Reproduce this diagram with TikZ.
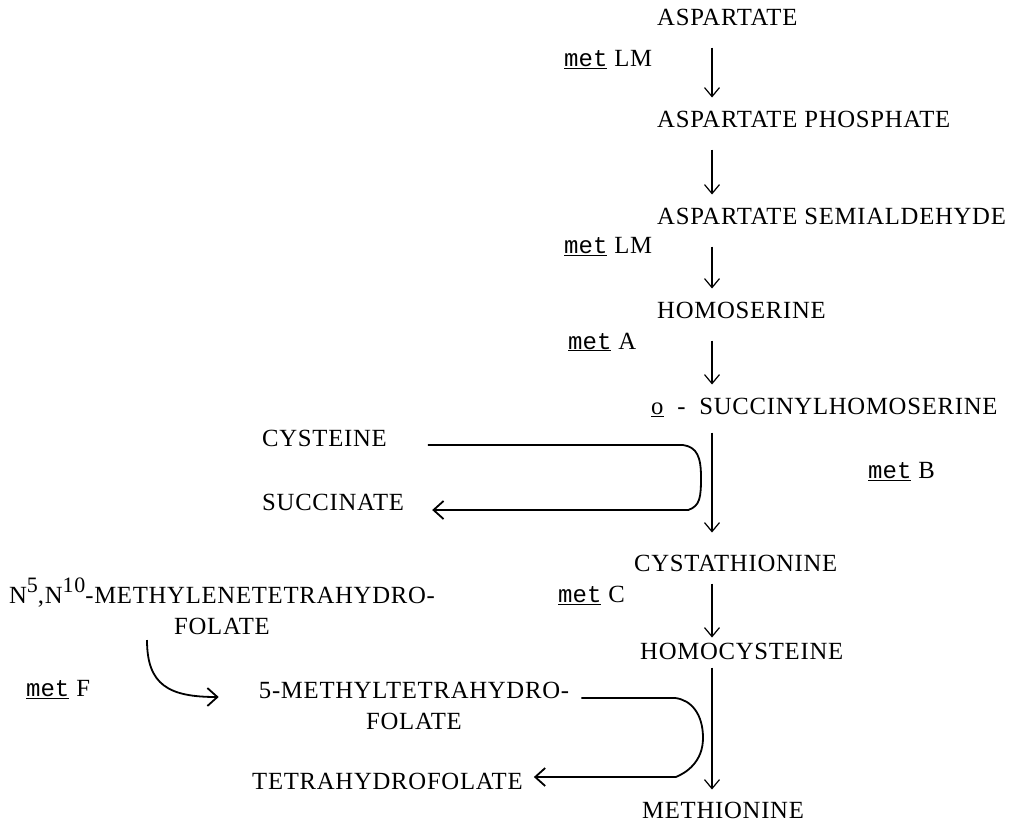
\documentclass[tikz,border=0pt]{standalone}
\usepackage{fontspec}
\setmainfont{Liberation Serif}[LetterSpace=3]
\setmonofont{Liberation Mono}
\usepackage{tikz}
\usetikzlibrary{arrows.meta}
\usetikzlibrary{calc}
\newcommand{\genemet}{{\ttfamily\fontsize{24}{28}\selectfont\underline{met}}}
\newcommand{\supnum}[1]{\raisebox{11pt}{\fontsize{22}{22}\selectfont #1}}
\tikzset{
	arr/.style={-{Straight Barb[length=9pt,width=15pt]}, line width=1.2pt, shorten <=22pt, shorten >=13pt},
	turn/.style={-{Straight Barb[length=10pt,width=18pt]}, line width=1.8pt}
}
\tikzset{
	cpd/.style={font=\fontsize{24.7}{31}\selectfont, inner sep=0pt, anchor=west},
	gene/.style={font=\fontsize{24.7}{30}\selectfont, inner sep=0pt, anchor=west}
}

\begin{document}
\begin{tikzpicture}[x=1pt,y=-1pt]
\useasboundingbox (0,0) rectangle (1009,825);
% main pathway
\node[cpd] (asp) at (657,17) {ASPARTATE};
\node[cpd] (aph) at (657,119) {ASPARTATE PHOSPHATE};
\node[cpd] (ase) at (657,216) {ASPARTATE SEMIALDEHYDE};
\node[cpd] (hom) at (657,310) {HOMOSERINE};
\node[cpd] (suc) at (651,407) {\underline{o}\ \ -\ \ SUCCINYLHOMOSERINE};
\node[cpd] (cth) at (634,563) {CYSTATHIONINE};
\node[cpd] (hcy) at (640,651) {HOMOCYSTEINE};
\node[cpd] (met) at (642,810) {METHIONINE};
% side compounds
\node[cpd] (cys) at (262,438) {CYSTEINE};
\node[cpd] (sucn) at (262,502) {SUCCINATE};
\node[cpd, anchor=south, align=center] (mthf) at (222,635) {N\supnum{5},N\supnum{10}-METHYLENETETRAHYDRO-\\FOLATE};
\node[cpd, anchor=south, align=center] (mthf5) at (414,730) {5-METHYLTETRAHYDRO-\\FOLATE};
\node[cpd] (thf) at (252,781) {TETRAHYDROFOLATE};
% genes
\node[gene] (lm1) at (564,60) {\genemet\ LM};
\node[gene] (lm2) at (564,247) {\genemet\ LM};
\node[gene] (ga) at (568,342) {\genemet\ A};
\node[gene] (gb) at (868,472) {\genemet\ B};
\node[gene] (gc) at (558,595) {\genemet\ C};
\node[gene] (gf) at (26,690) {\genemet\ F};

\coordinate (spine) at (712,0);
\coordinate (bendB) at (701,477);
\coordinate (bendH) at (703,738);

\draw[arr] (asp.south -| spine) -- (aph.north -| spine);
\draw[arr] (aph.south -| spine) -- (ase.north -| spine);
\draw[arr] (ase.south -| spine) -- (hom.north -| spine);
\draw[arr] (hom.south -| spine) -- (suc.north -| spine);
\draw[arr, shorten <=16pt, shorten >=22pt] (suc.south -| spine) -- (cth.north -| spine);
\draw[arr, shorten <=12pt, shorten >=5pt] (cth.south -| spine) -- (hcy.north -| spine);
\draw[arr, shorten <=8pt, shorten >=12pt] (hcy.south -| spine) -- (met.north -| spine);

\draw[turn] ([xshift=41pt,yshift=-7pt]cys.east) -- ++(255,0)
	.. controls +(14,2) and +(0,-20) .. (bendB)
	.. controls +(0,20) and +(12,-4) .. ([xshift=284pt,yshift=-8pt]sucn.east)
	-- ([xshift=28pt,yshift=-8pt]sucn.east);
\draw[turn] ([xshift=12pt,yshift=8pt]mthf5.east) -- ++(94,0)
	.. controls +(16,2) and +(0,-24) .. (bendH)
	.. controls +(0,24) and +(10,-4) .. ([xshift=153pt,yshift=4pt]thf.east)
	-- ([xshift=11pt,yshift=4pt]thf.east);
\draw[turn] ([xshift=-75pt,yshift=-5pt]mthf.south)
	.. controls +(0,45) and +(-50,0) .. ([xshift=-40pt,yshift=9pt]mthf5.west);
\end{tikzpicture}
\end{document}
